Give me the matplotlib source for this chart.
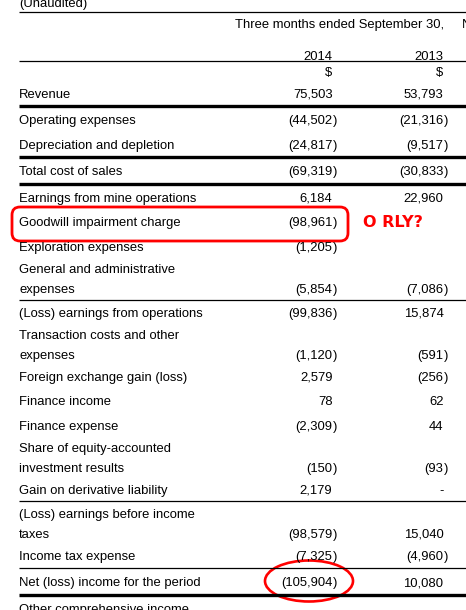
import matplotlib.pyplot as plt
from matplotlib.patches import Ellipse, FancyBboxPatch

plt.rcParams['font.family'] = ['Liberation Sans', 'DejaVu Sans']

# Statement rows: label (\n = wrapped line), Q3 2014 and Q3 2013 values.
# None means an empty cell, 0 is printed as a dash.
labels = [
    "Revenue",
    "Operating expenses",
    "Depreciation and depletion",
    "Total cost of sales",
    "Earnings from mine operations",
    "Goodwill impairment charge",
    "Exploration expenses",
    "General and administrative\nexpenses",
    "(Loss) earnings from operations",
    "Transaction costs and other\nexpenses",
    "Foreign exchange gain (loss)",
    "Finance income",
    "Finance expense",
    "Share of equity-accounted\ninvestment results",
    "Gain on derivative liability",
    "(Loss) earnings before income\ntaxes",
    "Income tax expense",
    "Net (loss) income for the period",
    "Other comprehensive income",
]
q3_2014 = [75503, -44502, -24817, -69319, 6184, -98961, -1205, -5854,
           -99836, -1120, 2579, 78, -2309, -150, 2179, -98579, -7325,
           -105904, None]
q3_2013 = [53793, -21316, -9517, -30833, 22960, None, None, -7086,
           15874, -591, -256, 62, 44, -93, 0, 15040, -4960, 10080, None]
years = ["2014", "2013"]
period_headers = ["Three months ended September 30,",
                  "Nine months ended September 30,"]

# rule drawn above these rows
rules = {1: 'thick', 3: 'thick', 4: 'thick', 8: 'thin',
         15: 'thin', 17: 'thin', 18: 'thick'}

FS = 9.4
LEFT = 19
COLS = [332.5, 443.5]
CAP = 4.7  # half cap height in px, centre -> baseline
RED = '#ff0000'


def put_value(ax, x, y, value):
    """Right align a number at x, parentheses for negatives hang past x."""
    if value is None:
        return
    if value == 0:
        ax.text(x, y, "-", ha='right', va='baseline', fontsize=FS)
    elif value < 0:
        ax.text(x, y, f"({-value:,}", ha='right', va='baseline', fontsize=FS)
        ax.text(x, y, ")", ha='left', va='baseline', fontsize=FS)
    else:
        ax.text(x, y, f"{value:,}", ha='right', va='baseline', fontsize=FS)


def hline(ax, y, kind):
    lw = 2.4 if kind == 'thick' else 0.9
    ax.plot([LEFT, 470], [y, y], color='black', lw=lw,
            solid_capstyle='butt', clip_on=False)


def main():
    fig = plt.figure(figsize=(4.66, 6.10), dpi=100)
    ax = fig.add_axes([0, 0, 1, 1])
    ax.set_xlim(0, 466)
    ax.set_ylim(610, 0)
    ax.axis('off')

    # header block
    ax.text(LEFT, 7, "(Unaudited)", ha='left', va='baseline', fontsize=FS)
    hline(ax, 11.5, 'thin')
    ax.text(COLS[1] + 1, 23 + CAP, period_headers[0], ha='right',
            va='baseline', fontsize=FS)
    ax.text(462, 23 + CAP, period_headers[1], ha='left',
            va='baseline', fontsize=FS)
    for x, yr in zip(COLS, years):
        ax.text(x, 55 + CAP, yr, ha='right', va='baseline', fontsize=FS)
        ax.text(x, 71.5 + CAP, "$", ha='right', va='baseline', fontsize=FS)
    hline(ax, 60.5, 'thin')

    # body rows
    y = 93
    prev_lines = 1
    prev_last = None
    centres = []
    for i, label in enumerate(labels):
        lines = label.split("\n")
        if i > 0:
            gap = 24.5
            if len(lines) > 1:
                gap -= 2.5
            if prev_lines > 1:
                gap -= 2.5
            if i in rules:
                gap += 2.0
            y = prev_last + gap
        if i in rules:
            hline(ax, (prev_last + y) / 2, rules[i])
        for k, line in enumerate(lines):
            ax.text(LEFT, y + 20 * k + CAP, line, ha='left',
                    va='baseline', fontsize=FS)
        last = y + 20 * (len(lines) - 1)
        put_value(ax, COLS[0], last + CAP, q3_2014[i])
        put_value(ax, COLS[1], last + CAP, q3_2013[i])
        centres.append(last)
        prev_last = last
        prev_lines = len(lines)

    # red annotations
    gw = centres[labels.index("Goodwill impairment charge")]
    ax.add_patch(FancyBboxPatch((12, gw - 14.5), 336, 34,
                                boxstyle="round,pad=0,rounding_size=8",
                                fill=False, ec=RED, lw=2.0))
    ax.text(363, gw - 0.5 + 5.9, "O RLY?", color=RED, fontsize=11.5,
            fontweight='bold', family='DejaVu Sans',
            ha='left', va='baseline')
    net = centres[labels.index("Net (loss) income for the period")]
    ax.add_patch(Ellipse((309, net - 0.5), 88, 41, fill=False,
                         ec=RED, lw=1.9))

    fig.savefig("out.png", dpi=100, facecolor='white')


if __name__ == "__main__":
    main()
